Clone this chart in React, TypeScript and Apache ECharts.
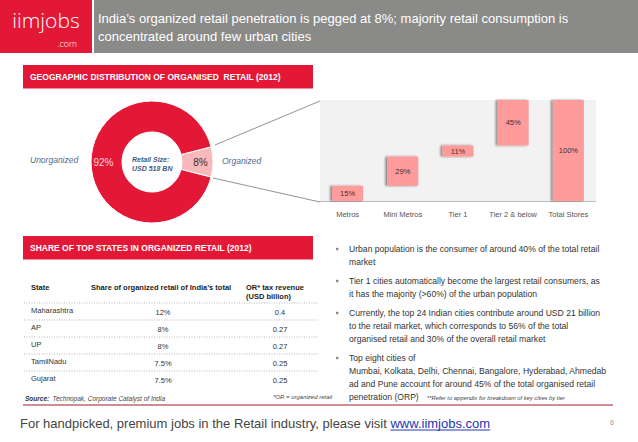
import React, { useEffect, useRef } from "react";
import * as echarts from "echarts";

const headerTitle = [
  "India\u2019s organized retail penetration is pegged at 8%; majority retail consumption is",
  "concentrated around few urban cities",
];
const sectionTitles = [
  "GEOGRAPHIC DISTRIBUTION OF ORGANISED  RETAIL (2012)",
  "SHARE OF TOP STATES IN ORGANIZED RETAIL (2012)",
];
const pieNames = ["Organized", "Unorganized"];
const pieValues = [8, 92];
const centerText = ["Retail Size:", "USD 518 BN"];

const stageCategories = ["Metros", "Mini Metros", "Tier 1", "Tier 2 & below", "Total Stores"];
const stageShares = [15, 29, 11, 45, 100];

const tableHeaders = ["State", "Share of organized retail of India\u2019s total", "OR* tax revenue\n(USD billion)"];
const states = ["Maharashtra", "AP", "UP", "TamilNadu", "Gujarat"];
const stateShares = ["12%", "8%", "8%", "7.5%", "7.5%"];
const taxRevenue = ["0.4", "0.27", "0.27", "0.25", "0.25"];

const bullets = [
  ["Urban population is the consumer of around 40% of the total retail", "market"],
  ["Tier 1 cities automatically become the largest retail consumers, as", "it has the majority (>60%) of the urban population"],
  [
    "Currently, the top 24 Indian cities contribute around USD 21 billion",
    "to the retail market, which corresponds to 56% of the total",
    "organised retail and 30% of the overall retail market",
  ],
  [
    "Top eight cities of",
    "Mumbai, Kolkata, Delhi, Chennai, Bangalore, Hyderabad, Ahmedab",
    "ad and Pune account for around 45% of the total organised retail",
    "penetration (ORP)",
  ],
];
const sourceNote = ["Source:", "Technopak, Corporate Catalyst of India"];
const orNote = "*OR = organized retail";
const referNote = "**Refer to appendix for breakdown of key cities by tier";
const footerText = "For handpicked, premium jobs in the Retail industry, please visit ";
const footerLink = "www.iimjobs.com";
const pageNumber = "6";

const RED = "#e31837";
const FONT = "'Liberation Sans', Arial, sans-serif";

function measure(text: string, font: string) {
  const c = document.createElement("canvas").getContext("2d");
  if (!c) return text.length * 6;
  c.font = font;
  return c.measureText(text).width;
}

export default function App() {
  const ref = useRef<HTMLDivElement>(null);
  useEffect(() => {
    document.body.style.margin = "0";
    if (!ref.current) return;
    const chart = echarts.init(ref.current, null, { renderer: "svg" });

    const bases = stageShares.map((_, i) =>
      i === stageShares.length - 1 ? 0 : stageShares.slice(0, i).reduce((a, b) => a + b, 0)
    );

    const g: any[] = [];
    // header
    g.push({ type: "rect", shape: { x: 0, y: 0, width: 92, height: 53 }, style: { fill: RED } });
    g.push({ type: "rect", shape: { x: 94, y: 0, width: 544, height: 53 }, style: { fill: "#8a8a89" } });
    g.push({
      type: "text", x: 46, y: 20,
      style: { text: "iimjobs", fill: "#fff", font: `300 21px 'Open Sans', ${FONT}`, textAlign: "center", textVerticalAlign: "middle" },
    });
    g.push({
      type: "text", x: 77, y: 43,
      style: { text: ".com", fill: "#fff", font: `300 9px 'Open Sans', ${FONT}`, textAlign: "right", textVerticalAlign: "middle" },
    });
    headerTitle.forEach((t, i) =>
      g.push({
        type: "text", x: 98, y: 18 + i * 18,
        style: { text: t, fill: "#fff", font: `13px ${FONT}`, textVerticalAlign: "middle" },
      })
    );
    // section bars
    [65, 236].forEach((y, i) => {
      g.push({ type: "rect", shape: { x: 23, y, width: 290, height: 23.5 }, style: { fill: RED } });
      g.push({
        type: "text", x: 30, y: y + 12,
        style: { text: sectionTitles[i], fill: "#fff", font: `bold 8.5px ${FONT}`, textVerticalAlign: "middle" },
      });
    });
    // donut side labels
    g.push({
      type: "text", x: 30, y: 160,
      style: { text: pieNames[1], fill: "#4f6b8e", font: `italic 8.5px ${FONT}`, textVerticalAlign: "middle" },
    });
    g.push({
      type: "text", x: 222, y: 161,
      style: { text: pieNames[0], fill: "#4f6b8e", font: `italic 8.5px ${FONT}`, textVerticalAlign: "middle" },
    });
    centerText.forEach((t, i) =>
      g.push({
        type: "text", x: 132, y: 159 + i * 9,
        style: { text: t, fill: "#3d5a82", font: `italic bold 7px ${FONT}`, textVerticalAlign: "middle" },
      })
    );
    // connector lines
    g.push({ type: "line", shape: { x1: 215, y1: 145, x2: 320, y2: 101 }, style: { stroke: "#777", lineWidth: 0.8 } });
    g.push({ type: "line", shape: { x1: 213, y1: 178, x2: 320, y2: 202 }, style: { stroke: "#777", lineWidth: 0.8 } });

    // table
    const hdrY = 287;
    g.push({ type: "text", x: 31, y: hdrY, style: { text: tableHeaders[0], fill: "#222", font: `bold 7.5px ${FONT}`, textVerticalAlign: "middle" } });
    g.push({ type: "text", x: 91, y: hdrY, style: { text: tableHeaders[1], fill: "#222", font: `bold 7.5px ${FONT}`, textVerticalAlign: "middle" } });
    tableHeaders[2].split("\n").forEach((t, i) =>
      g.push({ type: "text", x: 246, y: hdrY + i * 9, style: { text: t, fill: "#222", font: `bold 7.5px ${FONT}`, textVerticalAlign: "middle" } })
    );
    const lineYs = [303, 320, 337, 354, 371];
    lineYs.forEach((y) =>
      g.push({ type: "line", shape: { x1: 24, y1: y, x2: 319, y2: y }, style: { stroke: "#999", lineWidth: 0.7, lineDash: [1, 1.5] } })
    );
    states.forEach((s, i) => {
      const y = 310 + i * 17;
      g.push({ type: "text", x: 31, y, style: { text: s, fill: "#333", font: `7.5px ${FONT}`, textVerticalAlign: "middle" } });
      g.push({ type: "text", x: 163, y: y + 2, style: { text: stateShares[i], fill: "#333", font: `7.5px ${FONT}`, textAlign: "center", textVerticalAlign: "middle" } });
      g.push({ type: "text", x: 280, y: y + 2, style: { text: taxRevenue[i], fill: "#333", font: `7.5px ${FONT}`, textAlign: "center", textVerticalAlign: "middle" } });
    });
    g.push({
      type: "text", x: 25, y: 398,
      style: {
        text: `{b|${sourceNote[0]}} {i|${sourceNote[1]}}`,
        textVerticalAlign: "middle",
        rich: {
          b: { font: `italic bold 6.5px ${FONT}`, fill: "#333" },
          i: { font: `italic 6.5px ${FONT}`, fill: "#444" },
        },
      },
    });
    g.push({ type: "text", x: 273, y: 397, style: { text: orNote, fill: "#444", font: `italic 6px ${FONT}`, textVerticalAlign: "middle" } });

    // bullets
    let by = 249;
    bullets.forEach((lines) => {
      g.push({ type: "rect", shape: { x: 336, y: by - 1.2, width: 2.4, height: 2.4 }, style: { fill: "#888" } });
      lines.forEach((t, j) => {
        g.push({ type: "text", x: 349, y: by + j * 13, style: { text: t, fill: "#333", font: `8.6px ${FONT}`, textVerticalAlign: "middle" } });
      });
      by += lines.length * 13 + 6;
    });
    g.push({ type: "text", x: 427, y: 398, style: { text: referNote, fill: "#444", font: `italic 5.8px ${FONT}`, textVerticalAlign: "middle" } });

    // footer
    g.push({ type: "line", shape: { x1: 23, y1: 405, x2: 613, y2: 405 }, style: { stroke: "#9e1c2c", lineWidth: 1 } });
    const ffont = `13px ${FONT}`;
    const fx = 20;
    const w1 = measure(footerText, ffont);
    const w2 = measure(footerLink, ffont);
    g.push({ type: "text", x: fx, y: 423, style: { text: footerText, fill: "#444", font: ffont, textVerticalAlign: "middle" } });
    g.push({ type: "text", x: fx + w1, y: 423, style: { text: footerLink, fill: "#2236b0", font: ffont, textVerticalAlign: "middle" } });
    g.push({ type: "line", shape: { x1: fx + w1, y1: 430, x2: fx + w1 + w2, y2: 430 }, style: { stroke: "#2236b0", lineWidth: 1 } });
    g.push({ type: "text", x: 612, y: 422, style: { text: pageNumber, fill: "#999", font: `7px ${FONT}`, textAlign: "center", textVerticalAlign: "middle" } });

    chart.setOption({
      animation: false,
      textStyle: { fontFamily: FONT },
      grid: { left: 320, top: 100, width: 276, height: 101, show: true, backgroundColor: "#f2f2f2", borderWidth: 0 },
      xAxis: {
        type: "category",
        data: stageCategories,
        axisLine: { lineStyle: { color: "#bdbdbd" } },
        axisTick: { show: false },
        axisLabel: { fontSize: 7.5, color: "#555", margin: 9, interval: 0 },
      },
      yAxis: { type: "value", min: 0, max: 100, show: false, splitLine: { show: false } },
      series: [
        {
          type: "bar", stack: "w", data: bases, barWidth: 31, silent: true,
          itemStyle: { color: "transparent" },
        },
        {
          type: "bar", stack: "w", data: stageShares, barWidth: 31, silent: true,
          itemStyle: { color: "#ff9b9b", shadowColor: "rgba(0,0,0,0.45)", shadowOffsetX: -2, shadowBlur: 2 },
          label: { show: true, position: "inside", formatter: "{c}%", fontSize: 7.5, color: "#333" },
        },
        {
          type: "pie",
          center: [152, 162],
          radius: [30, 61],
          startAngle: 14.4,
          clockwise: true,
          silent: true,
          itemStyle: { borderColor: "#fff", borderWidth: 1 },
          label: { show: true, position: "inside", formatter: "{c}%", fontSize: 10 },
          labelLine: { show: false },
          data: pieNames.map((n, i) => ({
            name: n,
            value: pieValues[i],
            itemStyle: { color: i === 0 ? "#f9b8ba" : RED },
            label: { color: i === 0 ? "#333" : "#fbd6d8" },
          })),
        },
      ],
      graphic: { elements: g },
    });
    return () => chart.dispose();
  }, []);
  return <div ref={ref} style={{ position: "absolute", left: 0, top: 0, width: 638, height: 442 }} />;
}
